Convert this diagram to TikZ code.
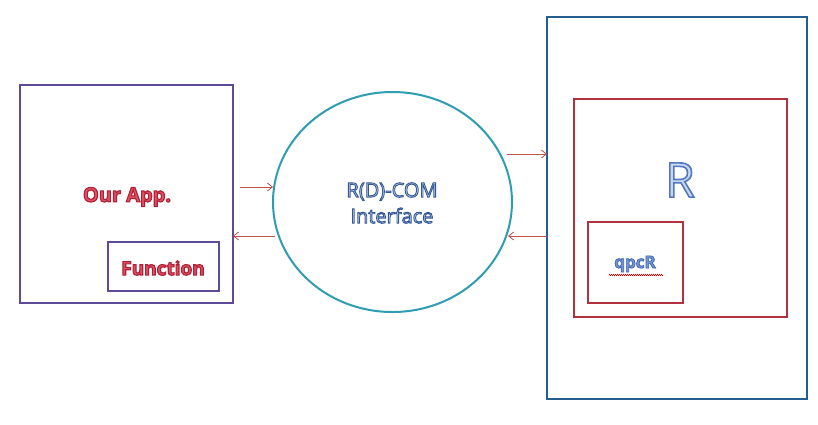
\documentclass[tikz,border=0pt]{standalone}
\usepackage{fontspec}
\setmainfont{Open Sans}
\usetikzlibrary{shapes.geometric,arrows.meta,decorations.pathmorphing}
\definecolor{purp}{HTML}{5F4A9A}
\definecolor{teal}{HTML}{2E9DB2}
\definecolor{dblue}{HTML}{245E8E}
\definecolor{boxred}{HTML}{B0323F}
\definecolor{arrred}{HTML}{C0504D}
\definecolor{redin}{HTML}{E0505F}
\definecolor{bluein}{HTML}{CADAF2}
\definecolor{rin}{HTML}{C8D8F2}
\definecolor{qin}{HTML}{7096D6}
\tikzset{
  box/.style={draw, rectangle, line width=2pt, inner sep=0pt, outer sep=0pt, anchor=north west},
  arr/.style={draw=arrred, line width=0.8pt, -{Straight Barb[length=5pt,width=8pt]}},
  lbl/.style={inner sep=0pt, align=center}
}
% outlined text: #1 stroke width, #2 stroke rgb, #3 fill colour, #4 text
\newcommand{\outl}[4]{\textcolor{#3}{\special{pdf:literal direct #2 RG #1 w 2 Tr}#4\special{pdf:literal direct 0 Tr 0 0 0 RG}}}
\begin{document}
\begin{tikzpicture}[x=1pt,y=-1pt]
\useasboundingbox (0,0) rectangle (818,424);
\fill[white] (0,0) rectangle (818,424);
% left app box
\node[box, draw=purp, minimum width=213pt, minimum height=218pt] (app) at (20,85) {};
\node[box, draw=purp, minimum width=111pt, minimum height=49pt] (func) at (108,242) {};
\node[lbl, font=\fontsize{20}{22}\selectfont\bfseries] (apptxt) at (127,197) {\outl{1.1}{0.68 0.13 0.22}{redin}{Our App.}};
\node[lbl, font=\fontsize{19}{20}\selectfont\bfseries] (functxt) at (163,268) {\outl{1.1}{0.68 0.13 0.22}{redin}{Function}};
% ellipse
\node[draw=teal, line width=2pt, ellipse, inner sep=0pt, minimum width=239pt, minimum height=220pt] (com) at (392.5,202) {};
\node[lbl, font=\fontsize{20}{26}\selectfont] (comtxt) at (392,203) {\outl{0.9}{0.20 0.34 0.58}{bluein}{R(D)-COM}\\\outl{0.9}{0.20 0.34 0.58}{bluein}{Interface}};
% right boxes
\node[box, draw=dblue, minimum width=260pt, minimum height=382pt] (outer) at (547,17) {};
\node[box, draw=boxred, minimum width=213pt, minimum height=218pt] (rbox) at (574,99) {};
\node[box, draw=boxred, minimum width=95pt, minimum height=81pt] (qbox) at (588,222) {};
\node[lbl, font=\fontsize{48}{48}\selectfont] (rtxt) at (680,180) {\outl{1.6}{0.32 0.47 0.75}{rin}{R}};
\node[lbl, font=\fontsize{17}{18}\selectfont\bfseries] (qtxt) at (635,264) {\outl{0.7}{0.25 0.38 0.68}{qin}{qpcR}};
\coordinate (sq1) at (609,275);
\coordinate (sq2) at (663,275);
\draw[red!80!black, line width=0.5pt, decorate, decoration={zigzag, segment length=2pt, amplitude=0.7pt}] (sq1) -- (sq2);
% arrow end points
\coordinate (a1s) at (240,187);
\coordinate (a1e) at (273,187);
\coordinate (a2s) at (275,236);
\coordinate (a2e) at (233,236);
\coordinate (a3s) at (507,154);
\coordinate (a3e) at (547,154);
\coordinate (a4s) at (547,236);
\coordinate (a4e) at (508,236);
\draw[arr] (a1s) -- (a1e);
\draw[arr] (a2s) -- (a2e);
\draw[arr] (a3s) -- (a3e);
\draw[arr] (a4s) -- (a4e);
\end{tikzpicture}
\end{document}
